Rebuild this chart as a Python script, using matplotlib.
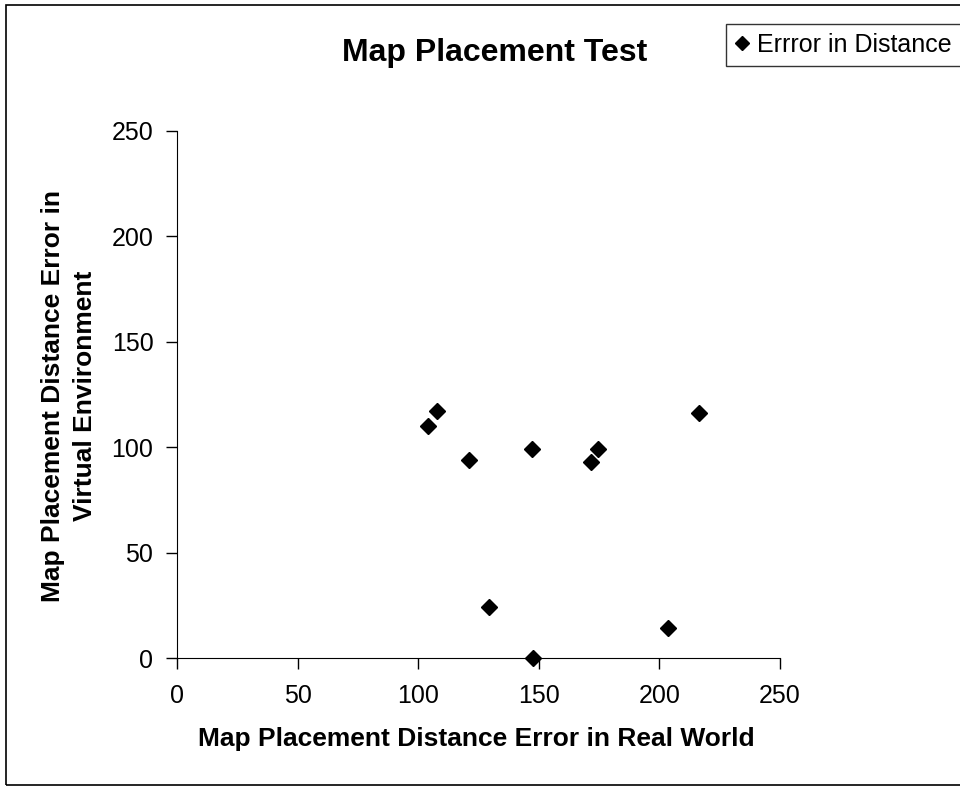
import matplotlib.pyplot as plt
from matplotlib.patches import Rectangle

# distance errors
real_world = [104, 108, 121, 129.5, 147, 147.5, 171.5, 174.5, 203.5, 216.5]
virtual_env = [110, 117, 94, 24, 99, 0, 93, 99, 14, 116]
ticks = [0, 50, 100, 150, 200, 250]

plt.rcParams['font.family'] = ['Liberation Sans', 'DejaVu Sans']

fig = plt.figure(figsize=(9.6, 7.9), dpi=100)
ax = fig.add_axes([177 / 960, 1 - 658 / 790, 603 / 960, 527 / 790])

ax.plot(real_world, virtual_env, 'D', color='black', markersize=8,
        linestyle='none', clip_on=False, label='Errror in Distance')

ax.set_xlim(0, 250)
ax.set_ylim(0, 250)
ax.set_xticks(ticks)
ax.set_yticks(ticks)
ax.tick_params(labelsize=18, length=8, width=1, direction='out')
ax.tick_params(axis='y', pad=9)
ax.tick_params(axis='x', pad=11)
for s in ['top', 'right']:
    ax.spines[s].set_visible(False)

fig.text(476 / 960, 1 - 739 / 790, 'Map Placement Distance Error in Real World',
         fontsize=19, fontweight='bold', ha='center', va='center')
fig.text(69 / 960, 1 - 396 / 790, 'Map Placement Distance Error in\nVirtual Environment',
         fontsize=19, fontweight='bold', ha='center', va='center',
         rotation=90, multialignment='center', linespacing=1.45)

fig.text(495 / 960, 1 - 53 / 790, 'Map Placement Test', fontsize=23,
         fontweight='bold', ha='center', va='center')

# outer chart frame
fig.patches.append(Rectangle((6 / 960, 5 / 790), 1.0, 780 / 790, fill=False,
                             edgecolor='black', linewidth=1.2,
                             transform=fig.transFigure, figure=fig))

leg = fig.legend(loc='upper left', bbox_to_anchor=(726 / 960, 1 - 24 / 790),
                 fontsize=18, frameon=True, fancybox=False, markerscale=0.85,
                 handlelength=0.6, handletextpad=0.3, borderpad=0.35,
                 borderaxespad=0)
leg.get_frame().set_edgecolor('black')
leg.get_frame().set_linewidth(1.0)

fig.savefig('out.png', dpi=100)
